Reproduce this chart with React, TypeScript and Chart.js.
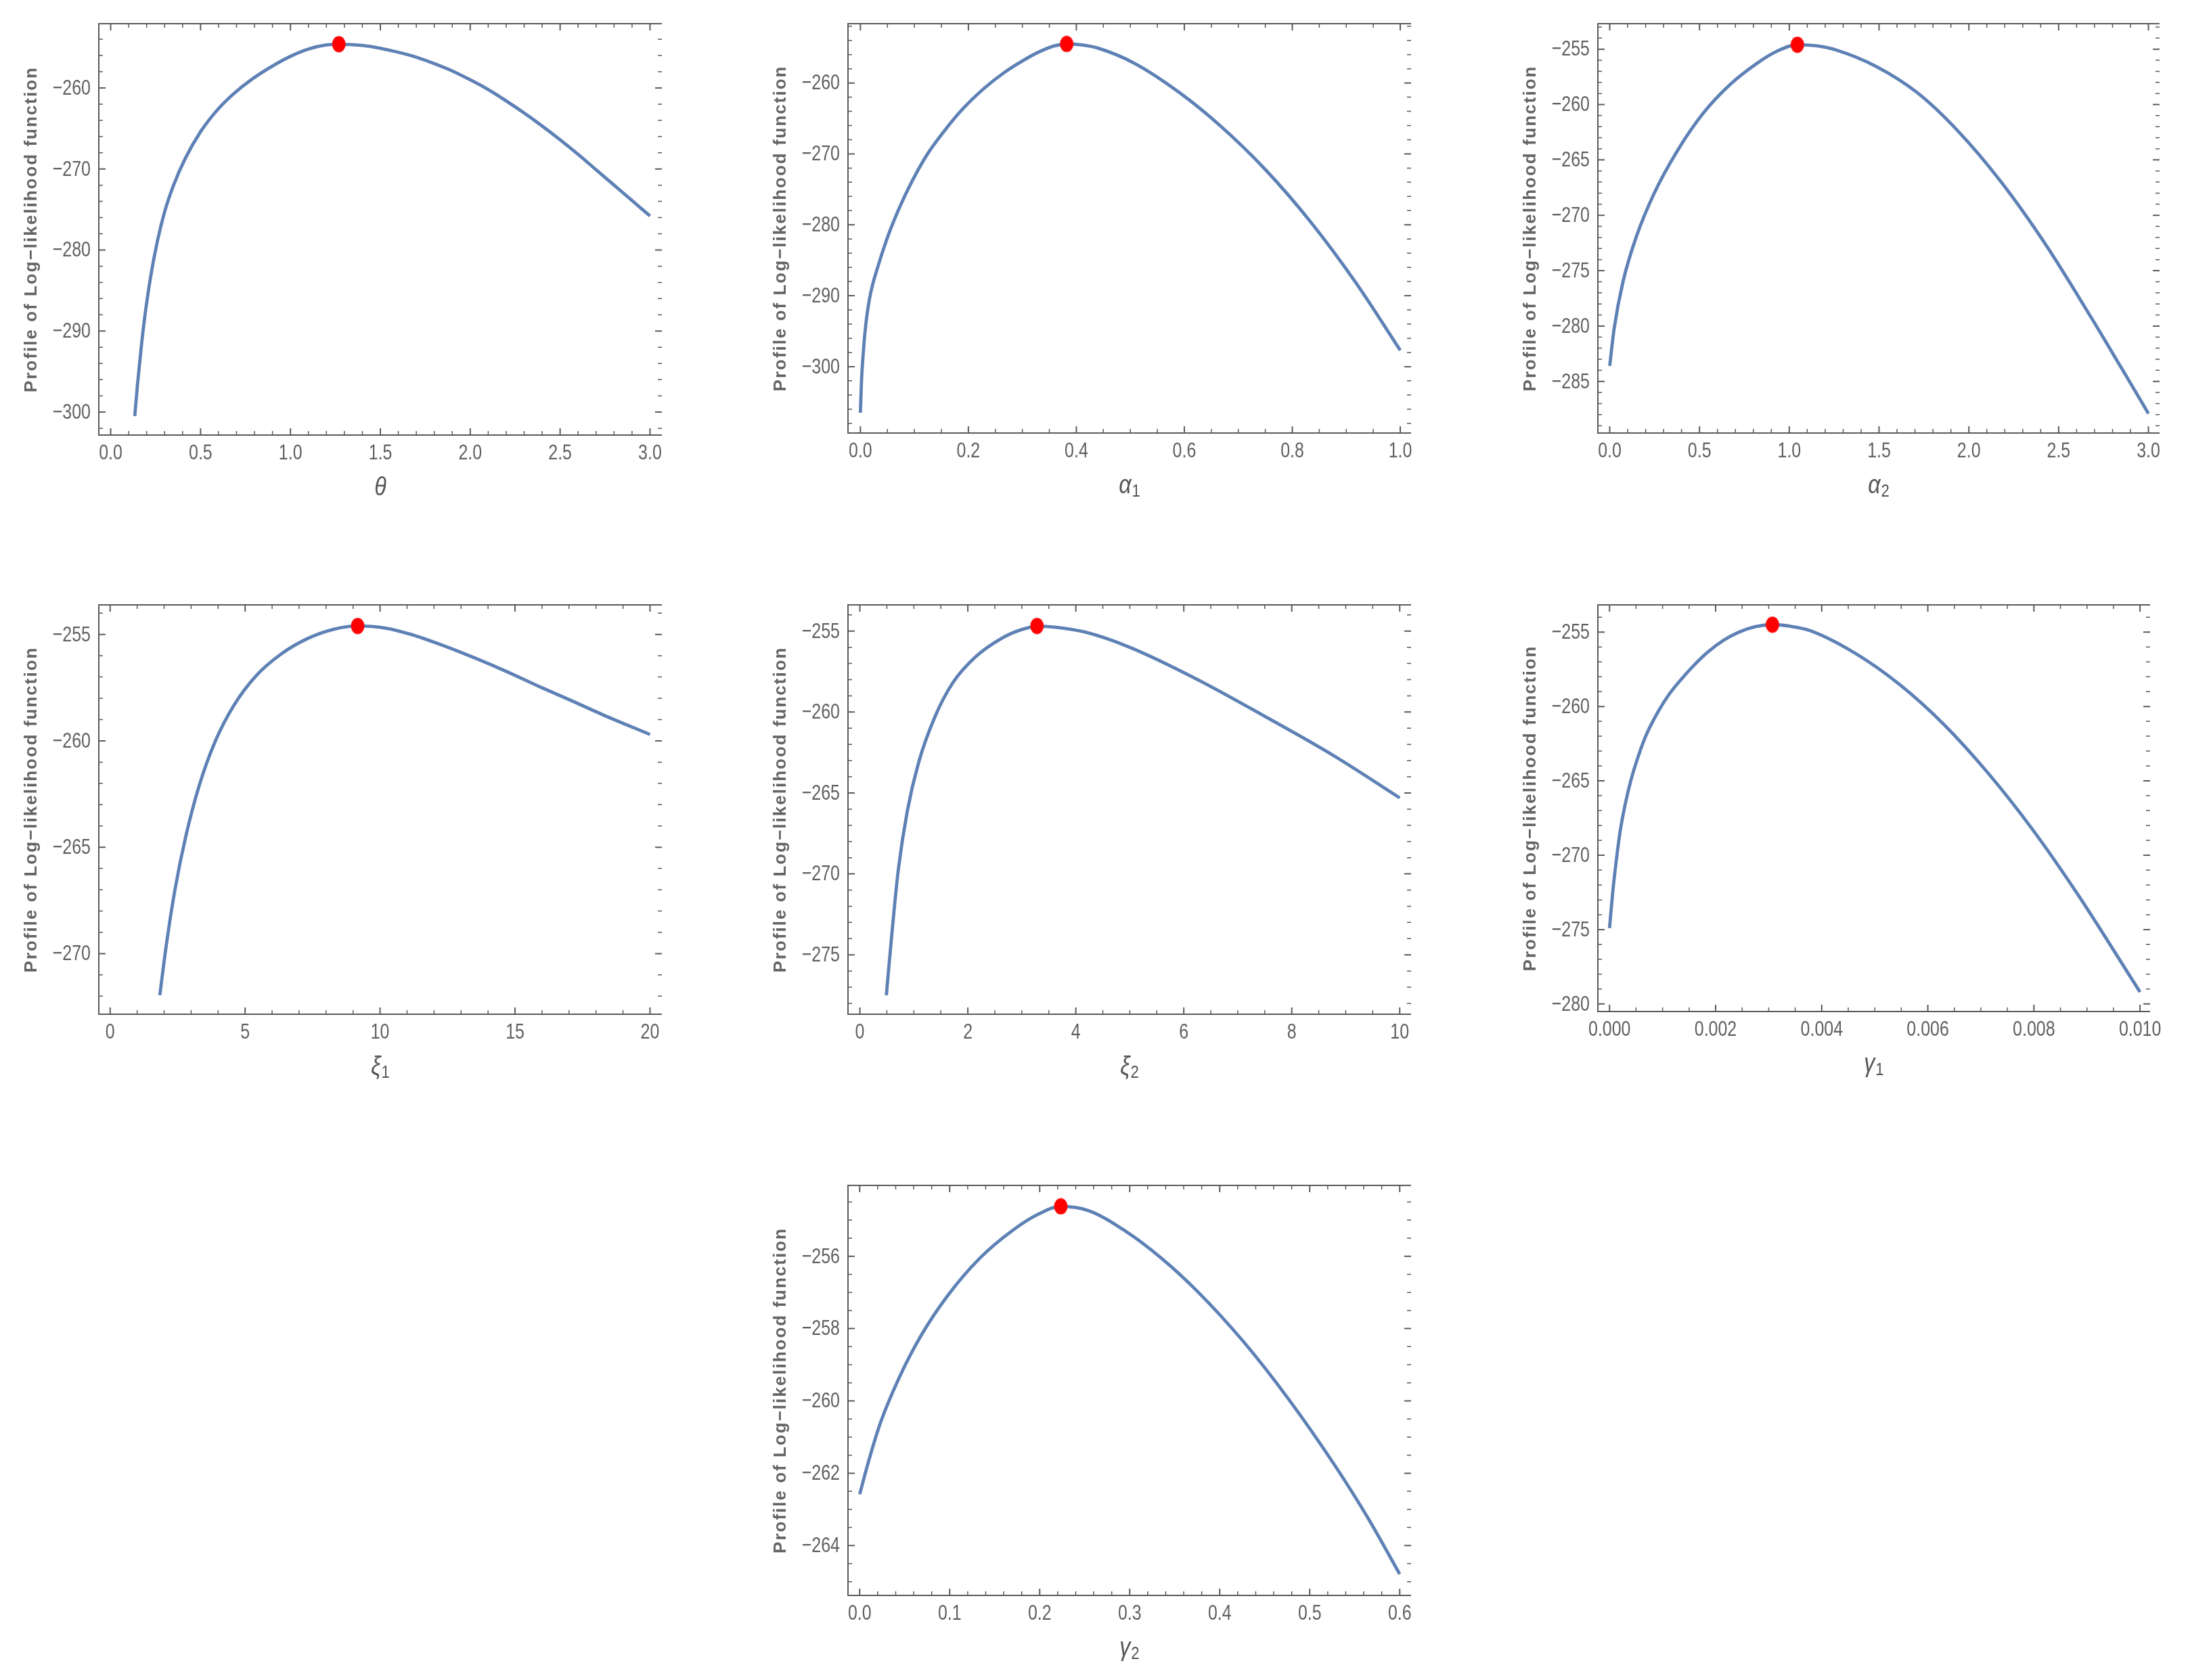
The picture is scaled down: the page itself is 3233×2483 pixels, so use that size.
import React, { useEffect, useRef } from 'react';
import { Chart, registerables } from 'chart.js';

Chart.register(...registerables);

// ---------- text ----------
const Y_AXIS_TITLE = 'Profile of Log\u2212likelihood function';

// ---------- panel 1 : theta ----------
const THETA_X = [0.134, 0.15, 0.17, 0.19, 0.22, 0.26, 0.3, 0.35, 0.415, 0.5, 0.586, 0.68, 0.781, 0.9, 1.0, 1.1, 1.2, 1.269, 1.4, 1.5, 1.6, 1.7, 1.8, 1.9, 2.0, 2.1, 2.2, 2.3, 2.4, 2.5, 2.6, 2.7, 2.8, 2.9, 3.0];
const THETA_Y = [-300.5, -296.4, -292.0, -288.2, -283.6, -278.9, -275.3, -272.0, -268.7, -265.4, -262.9, -260.8, -259.0, -257.3, -256.1, -255.2, -254.7, -254.6, -254.75, -255.1, -255.6, -256.2, -257.0, -257.9, -259.0, -260.2, -261.6, -263.1, -264.7, -266.4, -268.2, -270.1, -272.0, -273.9, -275.8];
const THETA_MLE = [1.269, -254.6];
const THETA_XTICKS = [0, 0.5, 1, 1.5, 2, 2.5, 3];
const THETA_XLABELS = ['0.0', '0.5', '1.0', '1.5', '2.0', '2.5', '3.0'];
const THETA_YTICKS = [-300, -290, -280, -270, -260];
const THETA_YLABELS = ['\u2212300', '\u2212290', '\u2212280', '\u2212270', '\u2212260'];

// ---------- panel 2 : alpha1 ----------
const ALPHA1_X = [0, 0.002, 0.005, 0.0078, 0.012, 0.019, 0.034, 0.05, 0.0725, 0.095, 0.124, 0.155, 0.189, 0.23, 0.267, 0.3, 0.33, 0.36, 0.382, 0.41, 0.44, 0.507, 0.59, 0.666, 0.75, 0.834, 0.918, 1.0];
const ALPHA1_Y = [-306.5, -302.0, -298.4, -295.7, -292.8, -289.6, -285.5, -281.8, -277.55, -273.95, -270.04, -266.8, -263.7, -260.7, -258.5, -256.9, -255.65, -254.75, -254.5, -254.64, -255.09, -257.2, -261.3, -266.0, -272.2, -279.6, -288.2, -297.7];
const ALPHA1_MLE = [0.382, -254.5];
const ALPHA1_XTICKS = [0, 0.2, 0.4, 0.6, 0.8, 1.0];
const ALPHA1_XLABELS = ['0.0', '0.2', '0.4', '0.6', '0.8', '1.0'];
const ALPHA1_YTICKS = [-300, -290, -280, -270, -260];
const ALPHA1_YLABELS = ['\u2212300', '\u2212290', '\u2212280', '\u2212270', '\u2212260'];

// ---------- panel 3 : alpha2 ----------
const ALPHA2_X = [0, 0.025, 0.074, 0.149, 0.248, 0.372, 0.52, 0.67, 0.818, 0.93, 1.045, 1.15, 1.265, 1.488, 1.71, 1.934, 2.18, 2.43, 2.68, 2.85, 3.0];
const ALPHA2_Y = [-283.6, -280.2, -276.0, -271.9, -268.0, -264.3, -260.8, -258.2, -256.3, -255.2, -254.6, -254.7, -255.1, -256.6, -258.9, -262.3, -267.0, -272.7, -279.2, -283.8, -287.9];
const ALPHA2_MLE = [1.045, -254.6];
const ALPHA2_XTICKS = [0, 0.5, 1, 1.5, 2, 2.5, 3];
const ALPHA2_XLABELS = ['0.0', '0.5', '1.0', '1.5', '2.0', '2.5', '3.0'];
const ALPHA2_YTICKS = [-285, -280, -275, -270, -265, -260, -255];
const ALPHA2_YLABELS = ['\u2212285', '\u2212280', '\u2212275', '\u2212270', '\u2212265', '\u2212260', '\u2212255'];

// ---------- panel 4 : xi1 ----------
const XI1_X = [1.84, 2.08, 2.4, 2.8, 3.3, 3.9, 4.6, 5.4, 6.3, 7.3, 8.3, 9.17, 10.2, 11.1, 12.3, 13.5, 14.7, 15.9, 17.1, 18.3, 20];
const XI1_Y = [-271.96, -269.6, -267.0, -264.5, -262.1, -260.0, -258.3, -256.95, -255.95, -255.2, -254.75, -254.6, -254.7, -254.98, -255.5, -256.1, -256.75, -257.45, -258.12, -258.8, -259.7];
const XI1_MLE = [9.17, -254.6];
const XI1_XTICKS = [0, 5, 10, 15, 20];
const XI1_XLABELS = ['0', '5', '10', '15', '20'];
const XI1_YTICKS = [-270, -265, -260, -255];
const XI1_YLABELS = ['\u2212270', '\u2212265', '\u2212260', '\u2212255'];

// ---------- panel 5 : xi2 ----------
const XI2_X = [0.49, 0.59, 0.71, 0.88, 1.09, 1.39, 1.72, 2.14, 2.65, 3.0, 3.28, 3.6, 4.16, 5.0, 6.26, 7.52, 8.78, 10];
const XI2_Y = [-277.5, -273.8, -269.8, -266.1, -263.1, -260.3, -258.2, -256.6, -255.4, -254.9, -254.7, -254.75, -255.05, -256.0, -258.0, -260.3, -262.7, -265.3];
const XI2_MLE = [3.28, -254.68];
const XI2_XTICKS = [0, 2, 4, 6, 8, 10];
const XI2_XLABELS = ['0', '2', '4', '6', '8', '10'];
const XI2_YTICKS = [-275, -270, -265, -260, -255];
const XI2_YLABELS = ['\u2212275', '\u2212270', '\u2212265', '\u2212260', '\u2212255'];

// ---------- panel 6 : gamma1 ----------
const GAMMA1_X = [0, 0.00006, 0.000126, 0.0002, 0.000294, 0.0004, 0.000546, 0.0007, 0.000924, 0.00113, 0.001345, 0.0016, 0.00185, 0.00215, 0.00244, 0.00275, 0.00307, 0.0034, 0.00378, 0.00462, 0.00546, 0.0063, 0.00714, 0.00798, 0.00882, 0.01];
const GAMMA1_Y = [-274.9, -272.5, -270.4, -268.4, -266.6, -265.0, -263.3, -261.85, -260.3, -259.15, -258.2, -257.2, -256.35, -255.55, -255.0, -254.63, -254.5, -254.6, -254.9, -256.4, -258.5, -261.2, -264.5, -268.3, -272.6, -279.2];
const GAMMA1_MLE = [0.00307, -254.5];
const GAMMA1_XTICKS = [0, 0.002, 0.004, 0.006, 0.008, 0.01];
const GAMMA1_XLABELS = ['0.000', '0.002', '0.004', '0.006', '0.008', '0.010'];
const GAMMA1_YTICKS = [-280, -275, -270, -265, -260, -255];
const GAMMA1_YLABELS = ['\u2212280', '\u2212275', '\u2212270', '\u2212265', '\u2212260', '\u2212255'];

// ---------- panel 7 : gamma2 ----------
const GAMMA2_X = [0, 0.01, 0.0227, 0.0429, 0.068, 0.098, 0.1336, 0.169, 0.199, 0.2234, 0.2546, 0.295, 0.335, 0.3756, 0.426, 0.4765, 0.527, 0.565, 0.6];
const GAMMA2_Y = [-262.58, -261.66, -260.63, -259.41, -258.2, -257.08, -256.05, -255.3, -254.83, -254.62, -254.74, -255.3, -256.05, -256.98, -258.35, -259.95, -261.75, -263.25, -264.79];
const GAMMA2_MLE = [0.2234, -254.62];
const GAMMA2_XTICKS = [0, 0.1, 0.2, 0.3, 0.4, 0.5, 0.6];
const GAMMA2_XLABELS = ['0.0', '0.1', '0.2', '0.3', '0.4', '0.5', '0.6'];
const GAMMA2_YTICKS = [-264, -262, -260, -258, -256];
const GAMMA2_YLABELS = ['\u2212264', '\u2212262', '\u2212260', '\u2212258', '\u2212256'];

// ---------- style ----------
const LINE_COLOR = '#5E81B5';
const DOT_COLOR = '#FF0000';
const FRAME_COLOR = '#5a5a5a';
const TICK_LABEL_COLOR = '#606060';
const TITLE_COLOR = '#646464';
const SANS = '"Liberation Sans", Arial, sans-serif';
const SQUEEZE = 0.78;

const PAD_L = 146;
const PAD_T = 35;
const PAD_R = 30;
const AX_H = 122;

type Panel = {
  id: string;
  xs: number[];
  ys: number[];
  mle: number[];
  xTicks: number[];
  xLabels: string[];
  yTicks: number[];
  yLabels: string[];
  xMinor: number;
  yMinor: number;
  xRange: [number, number];
  yRange: [number, number];
  sym: string;
  sub: string;
  frame: [number, number, number, number];
};

const PANELS: Panel[] = [
  { id: 'theta', xs: THETA_X, ys: THETA_Y, mle: THETA_MLE, xTicks: THETA_XTICKS, xLabels: THETA_XLABELS, yTicks: THETA_YTICKS, yLabels: THETA_YLABELS, xMinor: 0.1, yMinor: 2, xRange: [-0.066, 3.066], yRange: [-302.84, -252.07], sym: '\u03B8', sub: '', frame: [146, 35, 978, 643] },
  { id: 'alpha1', xs: ALPHA1_X, ys: ALPHA1_Y, mle: ALPHA1_MLE, xTicks: ALPHA1_XTICKS, xLabels: ALPHA1_XLABELS, yTicks: ALPHA1_YTICKS, yLabels: ALPHA1_YLABELS, xMinor: 0.05, yMinor: 2, xRange: [-0.023, 1.02], yRange: [-309.36, -251.64], sym: '\u03B1', sub: '1', frame: [1253, 35, 2085, 640] },
  { id: 'alpha2', xs: ALPHA2_X, ys: ALPHA2_Y, mle: ALPHA2_MLE, xTicks: ALPHA2_XTICKS, xLabels: ALPHA2_XLABELS, yTicks: ALPHA2_YTICKS, yLabels: ALPHA2_YLABELS, xMinor: 0.1, yMinor: 1, xRange: [-0.066, 3.062], yRange: [-289.66, -252.7], sym: '\u03B1', sub: '2', frame: [2361, 35, 3191, 640] },
  { id: 'xi1', xs: XI1_X, ys: XI1_Y, mle: XI1_MLE, xTicks: XI1_XTICKS, xLabels: XI1_XLABELS, yTicks: XI1_YTICKS, yLabels: XI1_YLABELS, xMinor: 1, yMinor: 1, xRange: [-0.42, 20.44], yRange: [-272.85, -253.61], sym: '\u03BE', sub: '1', frame: [146, 894, 978, 1499] },
  { id: 'xi2', xs: XI2_X, ys: XI2_Y, mle: XI2_MLE, xTicks: XI2_XTICKS, xLabels: XI2_XLABELS, yTicks: XI2_YTICKS, yLabels: XI2_YLABELS, xMinor: 0.5, yMinor: 1, xRange: [-0.22, 10.21], yRange: [-278.67, -253.38], sym: '\u03BE', sub: '2', frame: [1253, 894, 2085, 1499] },
  { id: 'gamma1', xs: GAMMA1_X, ys: GAMMA1_Y, mle: GAMMA1_MLE, xTicks: GAMMA1_XTICKS, xLabels: GAMMA1_XLABELS, yTicks: GAMMA1_YTICKS, yLabels: GAMMA1_YLABELS, xMinor: 0.0005, yMinor: 1, xRange: [-0.00022, 0.01019], yRange: [-280.51, -253.17], sym: '\u03B3', sub: '1', frame: [2361, 894, 3177, 1495] },
  { id: 'gamma2', xs: GAMMA2_X, ys: GAMMA2_Y, mle: GAMMA2_MLE, xTicks: GAMMA2_XTICKS, xLabels: GAMMA2_XLABELS, yTicks: GAMMA2_YTICKS, yLabels: GAMMA2_YLABELS, xMinor: 0.02, yMinor: 0.5, xRange: [-0.013, 0.6126], yRange: [-265.38, -254.04], sym: '\u03B3', sub: '2', frame: [1253, 1752, 2085, 2358] },
];

function makeDot(): HTMLCanvasElement {
  const c = document.createElement('canvas');
  c.width = 21;
  c.height = 25;
  const g = c.getContext('2d')!;
  g.fillStyle = DOT_COLOR;
  g.beginPath();
  g.ellipse(10.5, 12.5, 10, 12, 0, 0, Math.PI * 2);
  g.fill();
  return c;
}

function makeDecor(p: Panel) {
  return {
    id: 'decor_' + p.id,
    beforeDatasetsDraw(chart: any) {
      const { ctx, chartArea } = chart;
      const { left, right, top, bottom } = chartArea;
      const sx = chart.scales.x;
      const sy = chart.scales.y;
      ctx.save();
      ctx.strokeStyle = FRAME_COLOR;
      ctx.lineWidth = 2;
      ctx.beginPath();
      ctx.moveTo(right, top);
      ctx.lineTo(left, top);
      ctx.lineTo(left, bottom);
      ctx.lineTo(right, bottom);
      ctx.stroke();

      const isMajor = (arr: number[], v: number, step: number) => arr.some((m) => Math.abs(m - v) < step * 1e-3);
      const xTick = (v: number, len: number, w: number) => {
        const px = sx.getPixelForValue(v);
        ctx.lineWidth = w;
        ctx.beginPath();
        ctx.moveTo(px, bottom);
        ctx.lineTo(px, bottom - len);
        ctx.moveTo(px, top);
        ctx.lineTo(px, top + len);
        ctx.stroke();
      };
      const yTick = (v: number, len: number, w: number) => {
        const py = sy.getPixelForValue(v);
        ctx.lineWidth = w;
        ctx.beginPath();
        ctx.moveTo(left, py);
        ctx.lineTo(left + len, py);
        ctx.moveTo(right, py);
        ctx.lineTo(right - len, py);
        ctx.stroke();
      };
      const [x0, x1] = p.xRange;
      for (let k = Math.ceil(x0 / p.xMinor - 1e-9); k * p.xMinor <= x1 + 1e-12; k++) {
        const v = k * p.xMinor;
        if (!isMajor(p.xTicks, v, p.xMinor)) xTick(v, 6, 1.5);
      }
      p.xTicks.forEach((v) => xTick(v, 10, 2));
      const [y0, y1] = p.yRange;
      for (let k = Math.ceil(y0 / p.yMinor - 1e-9); k * p.yMinor <= y1 + 1e-12; k++) {
        const v = k * p.yMinor;
        if (!isMajor(p.yTicks, v, p.yMinor)) yTick(v, 6, 1.5);
      }
      p.yTicks.forEach((v) => yTick(v, 10, 2));

      ctx.fillStyle = TICK_LABEL_COLOR;
      ctx.font = `32px ${SANS}`;
      ctx.textBaseline = 'middle';
      ctx.textAlign = 'center';
      p.xTicks.forEach((v, i) => {
        const px = sx.getPixelForValue(v);
        ctx.save();
        ctx.translate(px, bottom + 27);
        ctx.scale(SQUEEZE, 1);
        ctx.fillText(p.xLabels[i], 0, 0);
        ctx.restore();
      });
      ctx.textAlign = 'right';
      p.yTicks.forEach((v, i) => {
        const py = sy.getPixelForValue(v);
        ctx.save();
        ctx.translate(left - 12, py + 1);
        ctx.scale(SQUEEZE, 1);
        ctx.fillText(p.yLabels[i], 0, 0);
        ctx.restore();
      });
      ctx.restore();
    },
    afterDraw(chart: any) {
      const { ctx, chartArea } = chart;
      const { left, right, top, bottom } = chartArea;
      ctx.save();
      ctx.translate(left - 99, (top + bottom) / 2);
      ctx.rotate(-Math.PI / 2);
      ctx.font = `bold 26px ${SANS}`;
      try { (ctx as any).letterSpacing = '2px'; } catch (e) { /* ignore */ }
      ctx.fillStyle = TITLE_COLOR;
      ctx.textAlign = 'center';
      ctx.textBaseline = 'middle';
      ctx.fillText(Y_AXIS_TITLE, 0, 0);
      ctx.restore();

      ctx.save();
      try { (ctx as any).letterSpacing = '0px'; } catch (e) { /* ignore */ }
      ctx.fillStyle = '#555555';
      ctx.textBaseline = 'middle';
      ctx.textAlign = 'left';
      const symFont = `italic 38px ${SANS}`;
      const subFont = `26px ${SANS}`;
      const sq = 0.85;
      ctx.font = symFont;
      const w1 = ctx.measureText(p.sym).width * sq;
      ctx.font = subFont;
      const w2 = p.sub ? ctx.measureText(p.sub).width * sq + 1 : 0;
      const cx = (left + right) / 2;
      const cy = bottom + 78;
      const xStart = cx - (w1 + w2) / 2;
      ctx.translate(xStart, cy);
      ctx.scale(sq, 1);
      ctx.font = symFont;
      ctx.fillText(p.sym, 0, 0);
      if (p.sub) {
        ctx.font = subFont;
        ctx.fillText(p.sub, w1 / sq + 1, 9);
      }
      ctx.restore();
    },
  };
}

function PanelChart({ p }: { p: Panel }) {
  const ref = useRef<HTMLCanvasElement>(null);
  const [L, T, R, B] = p.frame;
  const cw = R - L + PAD_L + PAD_R;
  const ch = B - T + PAD_T + AX_H;

  useEffect(() => {
    const canvas = ref.current;
    if (!canvas) return;
    const dot = makeDot();
    const chart = new Chart(canvas, {
      type: 'line',
      data: {
        datasets: [
          {
            label: 'MLE',
            data: [{ x: p.mle[0], y: p.mle[1] }],
            showLine: false,
            pointStyle: dot as any,
            pointRadius: 10,
            order: 0,
          } as any,
          {
            label: 'profile',
            data: p.xs.map((x, i) => ({ x, y: p.ys[i] })),
            borderColor: LINE_COLOR,
            borderWidth: 4.8,
            pointRadius: 0,
            fill: false,
            cubicInterpolationMode: 'monotone',
            order: 1,
          } as any,
        ],
      },
      options: {
        animation: false,
        responsive: false,
        maintainAspectRatio: false,
        devicePixelRatio: 1,
        events: [],
        layout: { padding: { left: 0, top: PAD_T, right: PAD_R, bottom: 0 } },
        plugins: { legend: { display: false }, tooltip: { enabled: false }, title: { display: false } },
        scales: {
          x: {
            type: 'linear',
            min: p.xRange[0],
            max: p.xRange[1],
            grid: { display: false, drawTicks: false },
            border: { display: false },
            ticks: { display: false },
            afterBuildTicks: (axis: any) => {
              axis.ticks = p.xTicks.map((v) => ({ value: v }));
            },
            afterFit: (axis: any) => {
              axis.height = AX_H;
            },
          },
          y: {
            type: 'linear',
            min: p.yRange[0],
            max: p.yRange[1],
            grid: { display: false, drawTicks: false },
            border: { display: false },
            ticks: { display: false },
            afterBuildTicks: (axis: any) => {
              axis.ticks = p.yTicks.map((v) => ({ value: v }));
            },
            afterFit: (axis: any) => {
              axis.width = PAD_L;
            },
          },
        },
      } as any,
      plugins: [makeDecor(p)],
    });
    return () => chart.destroy();
  }, [p]);

  return (
    <canvas
      ref={ref}
      width={cw}
      height={ch}
      style={{ position: 'absolute', left: L - PAD_L, top: T - PAD_T, width: cw, height: ch }}
    />
  );
}

export default function App() {
  return (
    <div
      style={{
        position: 'absolute',
        left: 0,
        top: 0,
        width: 3233,
        height: 2483,
        overflow: 'hidden',
        background: '#ffffff',
      }}
    >
      {PANELS.map((p) => (
        <PanelChart key={p.id} p={p} />
      ))}
    </div>
  );
}
